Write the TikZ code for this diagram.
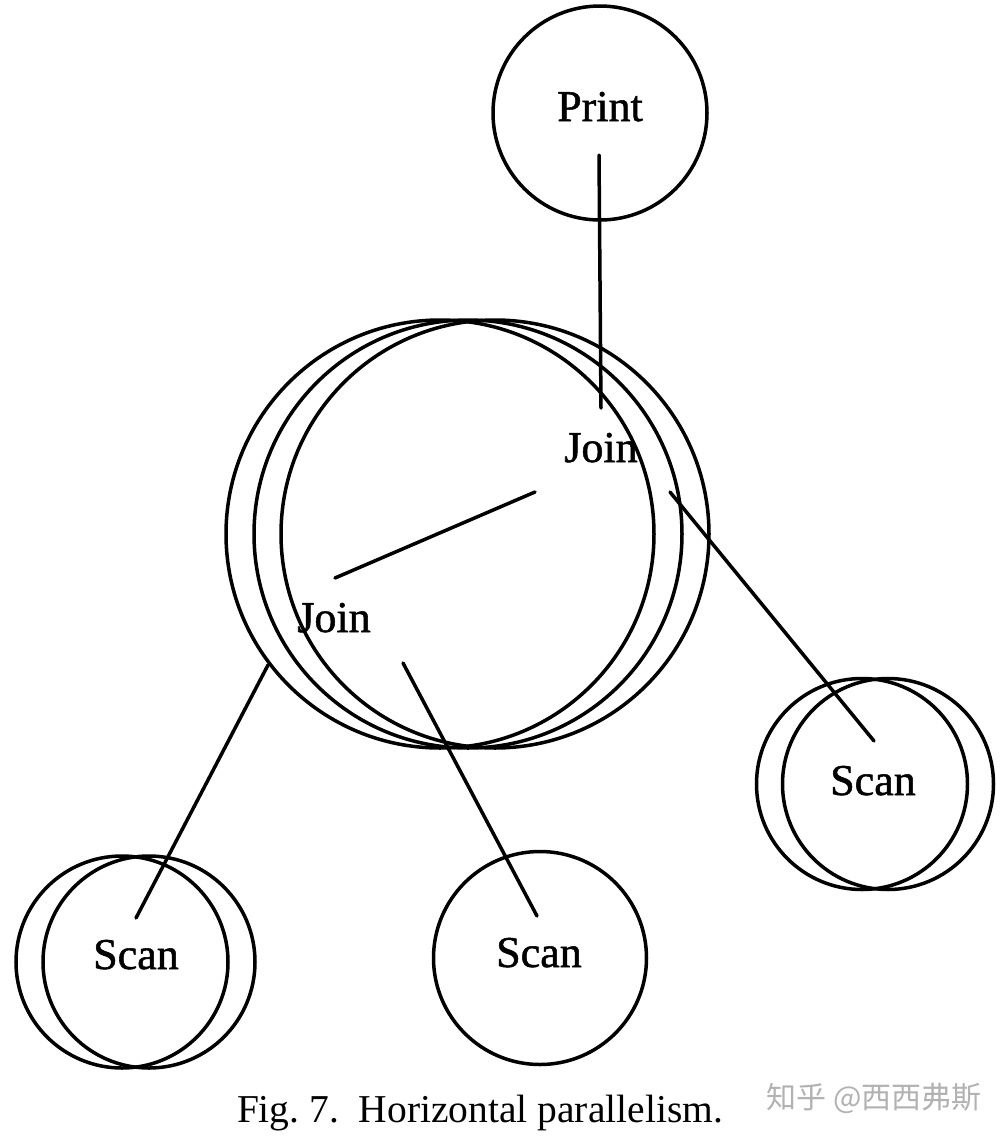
\documentclass[tikz,border=0pt]{standalone}
\usepackage{fontspec}
\setmainfont{Liberation Serif}
\newfontfamily\labelfont[FakeBold=1.2]{Liberation Serif}
\newfontfamily\cjkfont{Noto Sans CJK SC}
\begin{document}
\begin{tikzpicture}[x=1pt,y=-1pt,
  opnode/.style={draw=black, circle, inner sep=0pt, line width=3.5pt},
  oplabel/.style={anchor=base, inner sep=0pt, font=\labelfont\fontsize{44}{44}\selectfont},
  edge/.style={line width=3.5pt, line cap=round}]
\useasboundingbox[fill=white] (0,0) rectangle (1008,1136);
% Print
\node[opnode, minimum size=214pt] (printc) at (600,113) {};
\node[oplabel] (printt) at (600,121) {Print};
% Join group (three overlapping circles)
\node[opnode, minimum size=428pt] (joinA) at (440,534) {};
\node[opnode, minimum size=428pt] (joinB) at (468,534) {};
\node[opnode, minimum size=428pt] (joinC) at (495,534) {};
\node[oplabel] (jointop) at (601,462) {Join};
\node[oplabel] (joinlow) at (334,632) {Join};
% Right Scan (two circles)
\node[opnode, minimum size=211pt] (scanRA) at (862,784) {};
\node[opnode, minimum size=211pt] (scanRB) at (888,784) {};
\node[oplabel] (scanRt) at (873,795) {Scan};
% Lower-left Scan (two circles)
\node[opnode, minimum size=212pt] (scanLA) at (122,962) {};
\node[opnode, minimum size=212pt] (scanLB) at (149,962) {};
\node[oplabel] (scanLt) at (136,969) {Scan};
% Middle Scan
\node[opnode, minimum size=213pt] (scanM) at (540,958) {};
\node[oplabel] (scanMt) at (539,967) {Scan};
% connector end points
\coordinate (p1) at (599,155);
\coordinate (p2) at (601,408);
\coordinate (j1) at (535,492);
\coordinate (j2) at (335,578);
\coordinate (r1) at (670,492);
\coordinate (r2) at (874,741);
\coordinate (l1) at (268,665);
\coordinate (l2) at (136,918);
\coordinate (m1) at (403,663);
\coordinate (m2) at (537,916);
\draw[edge] (p1) -- (p2);
\draw[edge] (j1) -- (j2);
\draw[edge] (r1) -- (r2);
\draw[edge] (l1) -- (l2);
\draw[edge] (m1) -- (m2);
% caption and watermark
\node[anchor=base, inner sep=0pt, font=\fontsize{39.5}{39.5}\selectfont] (caption) at (480,1122) {Fig.~7.\ \ Horizontal parallelism.};
\node[anchor=center, inner sep=0pt, text=black!30, font=\cjkfont\fontsize{30}{30}\selectfont] (mark) at (874,1098) {知乎 @西西弗斯};
\end{tikzpicture}
\end{document}
